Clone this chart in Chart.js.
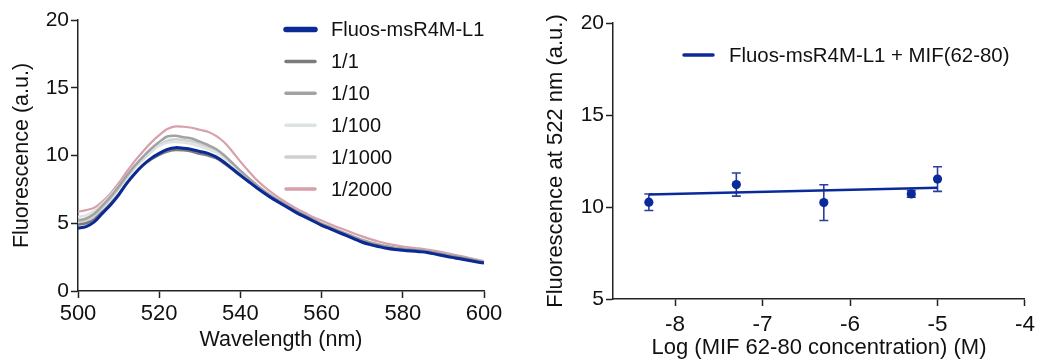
<!DOCTYPE html>
<html>
<head>
<meta charset="utf-8">
<script src="https://cdn.jsdelivr.net/npm/chart.js@4.4.1/dist/chart.umd.min.js"></script>
<style>
  body { margin: 0; background: #fff; }
  .panel { position: absolute; top: 0; width: 520px; height: 364px; }
</style>
</head>
<body>
<div class="panel" style="left:0"><canvas id="spectra" width="520" height="364"></canvas></div>
<div class="panel" style="left:520px"><canvas id="titration" width="520" height="364"></canvas></div>
<script>
// left panel: emission spectra (nm)
const wavelengths = [500,502,504,506,508,510,512,514,516,518,520,522,524,526,528,530,532,534,536,538,540,
  542,544,546,548,550,552,554,556,558,560,562,564,566,568,570,572,574,576,578,580,
  582,584,586,588,590,592,594,596,598,600];

const fluosL1 = [4.63,4.75,5.1,5.73,6.35,7.08,7.95,8.68,9.3,9.79,10.16,10.45,10.58,10.53,10.45,10.3,10.16,9.9,9.5,9.02,8.55,
  8.08,7.62,7.2,6.8,6.45,6.1,5.75,5.45,5.15,4.85,4.6,4.35,4.1,3.85,3.6,3.42,3.28,3.15,3.06,3.0,
  2.95,2.9,2.84,2.72,2.6,2.48,2.38,2.27,2.16,2.06];
const ratio1 = [4.9,5.0,5.3,5.85,6.45,7.15,7.95,8.65,9.25,9.7,10.05,10.3,10.4,10.38,10.3,10.12,10.0,9.8,9.42,8.98,8.5,
  8.07,7.64,7.22,6.84,6.48,6.13,5.8,5.5,5.2,4.9,4.65,4.4,4.15,3.9,3.66,3.48,3.34,3.2,3.1,3.04,
  3.0,2.95,2.88,2.77,2.65,2.53,2.43,2.32,2.2,2.1];
const ratio10 = [5.2,5.35,5.7,6.3,6.95,7.7,8.5,9.25,9.9,10.5,11.0,11.4,11.45,11.35,11.25,11.02,10.78,10.48,10.02,9.45,8.88,
  8.35,7.83,7.36,6.95,6.58,6.22,5.88,5.58,5.28,4.98,4.73,4.48,4.24,4.0,3.77,3.58,3.43,3.3,3.2,3.13,
  3.08,3.03,2.96,2.86,2.74,2.62,2.51,2.4,2.28,2.16];
const ratio100 = [5.45,5.6,5.9,6.45,7.05,7.75,8.5,9.2,9.8,10.3,10.7,10.95,11.0,10.95,10.85,10.67,10.47,10.22,9.8,9.3,8.78,
  8.26,7.78,7.33,6.92,6.55,6.2,5.86,5.56,5.26,4.97,4.72,4.47,4.23,4.0,3.77,3.58,3.43,3.3,3.2,3.13,
  3.08,3.02,2.95,2.85,2.73,2.61,2.5,2.39,2.27,2.15];
const ratio1000 = [5.05,5.2,5.55,6.15,6.8,7.55,8.35,9.1,9.7,10.25,10.75,11.1,11.2,11.15,11.05,10.87,10.62,10.33,9.9,9.37,8.83,
  8.3,7.81,7.35,6.93,6.56,6.21,5.87,5.57,5.27,4.97,4.72,4.47,4.23,4.0,3.77,3.58,3.43,3.3,3.2,3.13,
  3.08,3.02,2.95,2.85,2.73,2.61,2.5,2.39,2.27,2.15];
const ratio2000 = [5.85,5.97,6.15,6.6,7.2,7.95,8.8,9.6,10.3,10.95,11.5,11.95,12.15,12.12,12.05,11.9,11.75,11.45,10.98,10.3,9.55,
  8.85,8.2,7.67,7.2,6.77,6.4,6.05,5.75,5.45,5.2,4.95,4.7,4.48,4.25,4.03,3.83,3.65,3.5,3.38,3.28,
  3.2,3.14,3.06,2.97,2.86,2.72,2.6,2.47,2.33,2.2];

const spectraLabels = ['Fluos-msR4M-L1', '1/1', '1/10', '1/100', '1/1000', '1/2000'];
const spectraTicksX = [500, 520, 540, 560, 580, 600];
const spectraTicksY = [0, 5, 10, 15, 20];

// right panel: fluorescence at 522 nm vs log concentration
const logConc = [-8.3, -7.3, -6.3, -5.3, -5.0];
const meanF = [10.26, 11.22, 10.24, 10.71, 11.52];
const sdF = [0.45, 0.63, 0.97, 0.18, 0.67];
const fitX = [-8.3, -5.0];
const fitY = [10.68, 11.05];
const fitLabel = 'Fluos-msR4M-L1 + MIF(62-80)';
const titrTicksX = [-8, -7, -6, -5, -4];
const titrTicksY = [5, 10, 15, 20];

const FONT = "'Liberation Sans', Arial, Helvetica, sans-serif";
Chart.defaults.font.family = FONT;
Chart.defaults.color = '#111';
const AXIS = '#222';

// legend drawn at a fixed spot, like the prism style one
const fixedLegend = {
  id: 'fixedLegend',
  afterDraw(chart, args, opts) {
    const ctx = chart.ctx;
    ctx.save();
    ctx.font = opts.fontSize + 'px ' + FONT;
    ctx.textBaseline = 'middle';
    let y = opts.y;
    chart.data.datasets.forEach(ds => {
      if (ds.noLegend) return;
      ctx.strokeStyle = ds.borderColor;
      ctx.lineWidth = ds.legendWidth || 3;
      ctx.lineCap = 'round';
      ctx.beginPath();
      ctx.moveTo(opts.x, y);
      ctx.lineTo(opts.x + opts.lineLen, y);
      ctx.stroke();
      ctx.fillStyle = '#111';
      ctx.fillText(ds.label, opts.x + opts.lineLen + opts.gap, y + 1);
      y += opts.rowH;
    });
    ctx.restore();
  }
};

// error bars (mean +/- sd) for the scatter points
const errorBars = {
  id: 'errorBars',
  beforeDatasetsDraw(chart) {
    const xs = chart.scales.x, ys = chart.scales.y;
    const ctx = chart.ctx;
    ctx.save();
    ctx.strokeStyle = '#2b3d9f';
    ctx.lineWidth = 1.6;
    logConc.forEach((c, i) => {
      const px = xs.getPixelForValue(c);
      const top = ys.getPixelForValue(meanF[i] + sdF[i]);
      const bot = ys.getPixelForValue(meanF[i] - sdF[i]);
      ctx.beginPath();
      ctx.moveTo(px, top); ctx.lineTo(px, bot);
      ctx.moveTo(px - 4.5, top); ctx.lineTo(px + 4.5, top);
      ctx.moveTo(px - 4.5, bot); ctx.lineTo(px + 4.5, bot);
      ctx.stroke();
    });
    ctx.restore();
  }
};

function axisStyle(ticks, fontSize, min, max, title, titlePad) {
  return {
    type: 'linear',
    min: min,
    max: max,
    afterBuildTicks: s => { s.ticks = ticks.map(v => ({ value: v })); },
    grid: { drawOnChartArea: false, drawTicks: true, tickLength: 7, tickColor: AXIS, tickWidth: 1.5 },
    border: { display: true, color: AXIS, width: 1.5 },
    ticks: { font: { size: fontSize }, color: '#111', padding: 3, maxRotation: 0, autoSkip: false },
    title: { display: true, text: title, font: { size: 21.5, lineHeight: 1 }, color: '#111', padding: titlePad }
  };
}

const series = [fluosL1, ratio1, ratio10, ratio100, ratio1000, ratio2000];
const colours = ['#0b2a96', '#7b7b7b', '#a2a2a2', '#dde3e3', '#d0d0d0', '#d8a0ab'];
const widths = [3, 2.5, 2.5, 2.5, 2.5, 2.2];
const legendWidths = [5.5, 3.5, 3.5, 3.5, 3.5, 3.5];

const specX = axisStyle(spectraTicksX, 22, 500, 600, 'Wavelength (nm)', { top: 0, bottom: 13 });
specX.afterFit = s => { s.height = 73; };
const specY = axisStyle(spectraTicksY, 21, 0, 20, 'Fluorescence (a.u.)', { top: 11, bottom: 0 });
specY.ticks.padding = 2;
specY.afterFit = s => { s.width = 78; };

new Chart(document.getElementById('spectra'), {
  type: 'line',
  data: {
    datasets: series.map((arr, i) => ({
      label: spectraLabels[i],
      data: wavelengths.map((w, j) => ({ x: w, y: arr[j] })),
      borderColor: colours[i],
      borderWidth: widths[i],
      legendWidth: legendWidths[i],
      pointRadius: 0,
      tension: 0.3,
      fill: false
    }))
  },
  options: {
    responsive: false,
    animation: false,
    layout: { padding: { left: 0, right: 36, top: 20, bottom: 0 } },
    scales: { x: specX, y: specY },
    plugins: {
      legend: { display: false },
      tooltip: { enabled: false },
      fixedLegend: { x: 286, y: 29.5, lineLen: 29, gap: 16, rowH: 31.9, fontSize: 20 }
    }
  },
  plugins: [fixedLegend]
});

const titX = axisStyle(titrTicksX, 22.5, -8.71, -4, 'Log (MIF 62-80 concentration) (M)', { top: 0, bottom: 5 });
titX.title.font.size = 22;
titX.ticks.padding = 5;
titX.afterFit = s => { s.height = 65; };
const titY = axisStyle(titrTicksY, 21, 5, 20, 'Fluorescence at 522 nm (a.u.)', { top: 25, bottom: 0 });
titY.title.font.size = 22;
titY.ticks.padding = 2;
titY.afterFit = s => { s.width = 93; };

new Chart(document.getElementById('titration'), {
  type: 'scatter',
  data: {
    datasets: [
      {
        label: fitLabel,
        type: 'line',
        data: fitX.map((x, i) => ({ x: x, y: fitY[i] })),
        borderColor: '#0b2a99',
        borderWidth: 2.5,
        legendWidth: 3.5,
        pointRadius: 0,
        fill: false
      },
      {
        label: 'data',
        noLegend: true,
        data: logConc.map((x, i) => ({ x: x, y: meanF[i] })),
        backgroundColor: '#0b2a99',
        borderColor: '#0b2a99',
        pointRadius: 4.6,
        pointBorderWidth: 0
      }
    ]
  },
  options: {
    responsive: false,
    animation: false,
    layout: { padding: { left: 0, right: 12, top: 23, bottom: 0 } },
    scales: { x: titX, y: titY },
    plugins: {
      legend: { display: false },
      tooltip: { enabled: false },
      fixedLegend: { x: 164, y: 55, lineLen: 29, gap: 16, rowH: 32, fontSize: 20.4 }
    }
  },
  plugins: [fixedLegend, errorBars]
});
</script>
</body>
</html>
